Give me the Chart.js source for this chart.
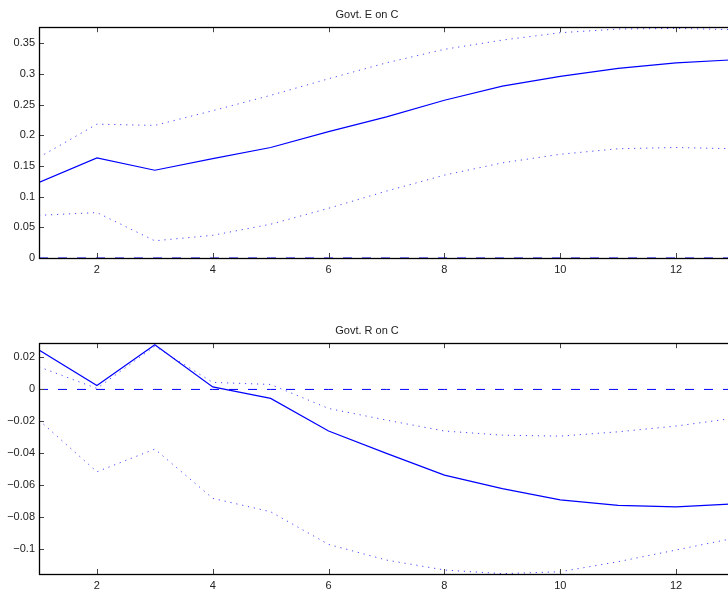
<!DOCTYPE html>
<html>
<head>
<meta charset="utf-8">
<script src="https://cdn.jsdelivr.net/npm/chart.js@4.4.1/dist/chart.umd.min.js"></script>
<style>
  html, body { margin: 0; padding: 0; background: #fff; overflow: hidden; }
  body { width: 728px; height: 594px; position: relative; }
  canvas { position: absolute; left: 0; }
  #chart-e { top: 0; }
  #chart-r { top: 316px; }
</style>
</head>
<body>
<canvas id="chart-e" width="773" height="278"></canvas>
<canvas id="chart-r" width="773" height="278"></canvas>
<script>
// horizon (periods)
var horizon = [1, 2, 3, 4, 5, 6, 7, 8, 9, 10, 11, 12, 13];
var xTicks = [2, 4, 6, 8, 10, 12];

// Govt. E on C : response + bands
var govtE_irf   = [0.123, 0.163, 0.143, 0.162, 0.180, 0.206, 0.230, 0.257, 0.280, 0.296, 0.309, 0.318, 0.323];
var govtE_upper = [0.164, 0.218, 0.216, 0.240, 0.265, 0.292, 0.318, 0.340, 0.355, 0.367, 0.373, 0.374, 0.372];
var govtE_lower = [0.0695, 0.074, 0.028, 0.037, 0.055, 0.081, 0.109, 0.135, 0.155, 0.169, 0.178, 0.180, 0.178];
var govtE_yTicks  = [0, 0.05, 0.1, 0.15, 0.2, 0.25, 0.3, 0.35];
var govtE_yLabels = ['0', '0.05', '0.1', '0.15', '0.2', '0.25', '0.3', '0.35'];

// Govt. R on C : response + bands
var govtR_irf   = [0.0246, 0.0025, 0.0279, 0.0016, -0.0056, -0.026, -0.040, -0.0536, -0.062, -0.069, -0.0725, -0.0734, -0.0716];
var govtR_upper = [0.0141, 0.0006, 0.027, 0.0044, 0.0031, -0.0119, -0.0192, -0.026, -0.0286, -0.0292, -0.0265, -0.0229, -0.018];
var govtR_lower = [-0.0192, -0.0515, -0.0373, -0.0681, -0.0765, -0.0969, -0.1067, -0.1129, -0.1152, -0.114, -0.1077, -0.1004, -0.093];
var govtR_yTicks  = [-0.1, -0.08, -0.06, -0.04, -0.02, 0, 0.02];
var govtR_yLabels = ['\u22120.1', '\u22120.08', '\u22120.06', '\u22120.04', '\u22120.02', '0', '0.02'];

var zeroLine = horizon.map(function () { return 0; });

var FONT = { family: '"Liberation Sans", Arial, Helvetica, sans-serif', size: 11 };
var TEXT = '#222';

function pts(vals) {
    return horizon.map(function (h, i) { return { x: h, y: vals[i] }; });
}

// box round the plot, ticks pointing inwards on all 4 sides
var matlabBox = {
    id: 'matlabBox',
    afterDatasetsDraw: function (chart) {
        var ctx = chart.ctx, a = chart.chartArea;
        var sx = chart.scales.x, sy = chart.scales.y;
        var len = 5;
        ctx.save();
        ctx.strokeStyle = '#444';
        ctx.lineWidth = 1;
        ctx.beginPath();
        sx.ticks.forEach(function (t) {
            var px = Math.round(sx.getPixelForValue(t.value)) + 0.5;
            ctx.moveTo(px, a.bottom); ctx.lineTo(px, a.bottom - len);
            ctx.moveTo(px, a.top); ctx.lineTo(px, a.top + len);
        });
        sy.ticks.forEach(function (t) {
            var py = Math.round(sy.getPixelForValue(t.value)) + 0.5;
            ctx.moveTo(a.left, py); ctx.lineTo(a.left + len, py);
            ctx.moveTo(a.right, py); ctx.lineTo(a.right - len, py);
        });
        ctx.stroke();
        ctx.strokeStyle = '#000';
        ctx.lineWidth = 1.3;
        ctx.strokeRect(Math.round(a.left) + 0.5, Math.round(a.top) + 0.5,
            Math.round(a.right - a.left), Math.round(a.bottom - a.top));
        ctx.restore();
    }
};

function makePanel(id, title, irf, upper, lower, yMin, yMax, yTicks, yLabels) {
    var ctx = document.getElementById(id).getContext('2d');
    return new Chart(ctx, {
        type: 'line',
        data: {
            datasets: [{
                data: pts(zeroLine),
                borderColor: '#0000ff',
                borderWidth: 1,
                borderDash: [9, 10],
                pointRadius: 0
            }, {
                data: pts(upper),
                borderColor: 'rgba(40,40,255,0.85)',
                borderWidth: 1,
                borderDash: [1.2, 4.8],
                pointRadius: 0
            }, {
                data: pts(lower),
                borderColor: 'rgba(40,40,255,0.85)',
                borderWidth: 1,
                borderDash: [1.2, 4.8],
                pointRadius: 0
            }, {
                data: pts(irf),
                borderColor: '#0000ff',
                borderWidth: 1.2,
                pointRadius: 0
            }]
        },
        options: {
            responsive: false,
            animation: false,
            events: [],
            layout: { padding: { left: 0, right: 39, top: 0, bottom: 0 } },
            elements: { line: { tension: 0 } },
            plugins: {
                legend: { display: false },
                tooltip: { enabled: false },
                title: {
                    display: true,
                    text: title,
                    color: TEXT,
                    font: { family: FONT.family, size: 11, weight: 'normal' },
                    padding: { top: 8, bottom: 6 }
                }
            },
            scales: {
                x: {
                    type: 'linear',
                    min: 1,
                    max: 13,
                    grid: { display: false, drawTicks: false },
                    border: { display: false },
                    afterBuildTicks: function (s) {
                        s.ticks = xTicks.map(function (v) { return { value: v }; });
                    },
                    afterFit: function (s) { s.height = 20; },
                    ticks: {
                        color: TEXT,
                        font: FONT,
                        padding: 5,
                        maxRotation: 0,
                        autoSkip: false,
                        callback: function (v) { return String(v); }
                    }
                },
                y: {
                    type: 'linear',
                    min: yMin,
                    max: yMax,
                    grid: { display: false, drawTicks: false },
                    border: { display: false },
                    afterBuildTicks: function (s) {
                        s.ticks = yTicks.map(function (v) { return { value: v }; });
                    },
                    afterFit: function (s) { s.width = 39; },
                    ticks: {
                        color: TEXT,
                        font: FONT,
                        padding: 4,
                        autoSkip: false,
                        callback: function (v, i) { return yLabels[i]; }
                    }
                }
            }
        },
        plugins: [matlabBox]
    });
}

var chartE = makePanel('chart-e', 'Govt. E on C', govtE_irf, govtE_upper, govtE_lower,
    0, 0.376, govtE_yTicks, govtE_yLabels);
var chartR = makePanel('chart-r', 'Govt. R on C', govtR_irf, govtR_upper, govtR_lower,
    -0.1154, 0.0289, govtR_yTicks, govtR_yLabels);
</script>
</body>
</html>
